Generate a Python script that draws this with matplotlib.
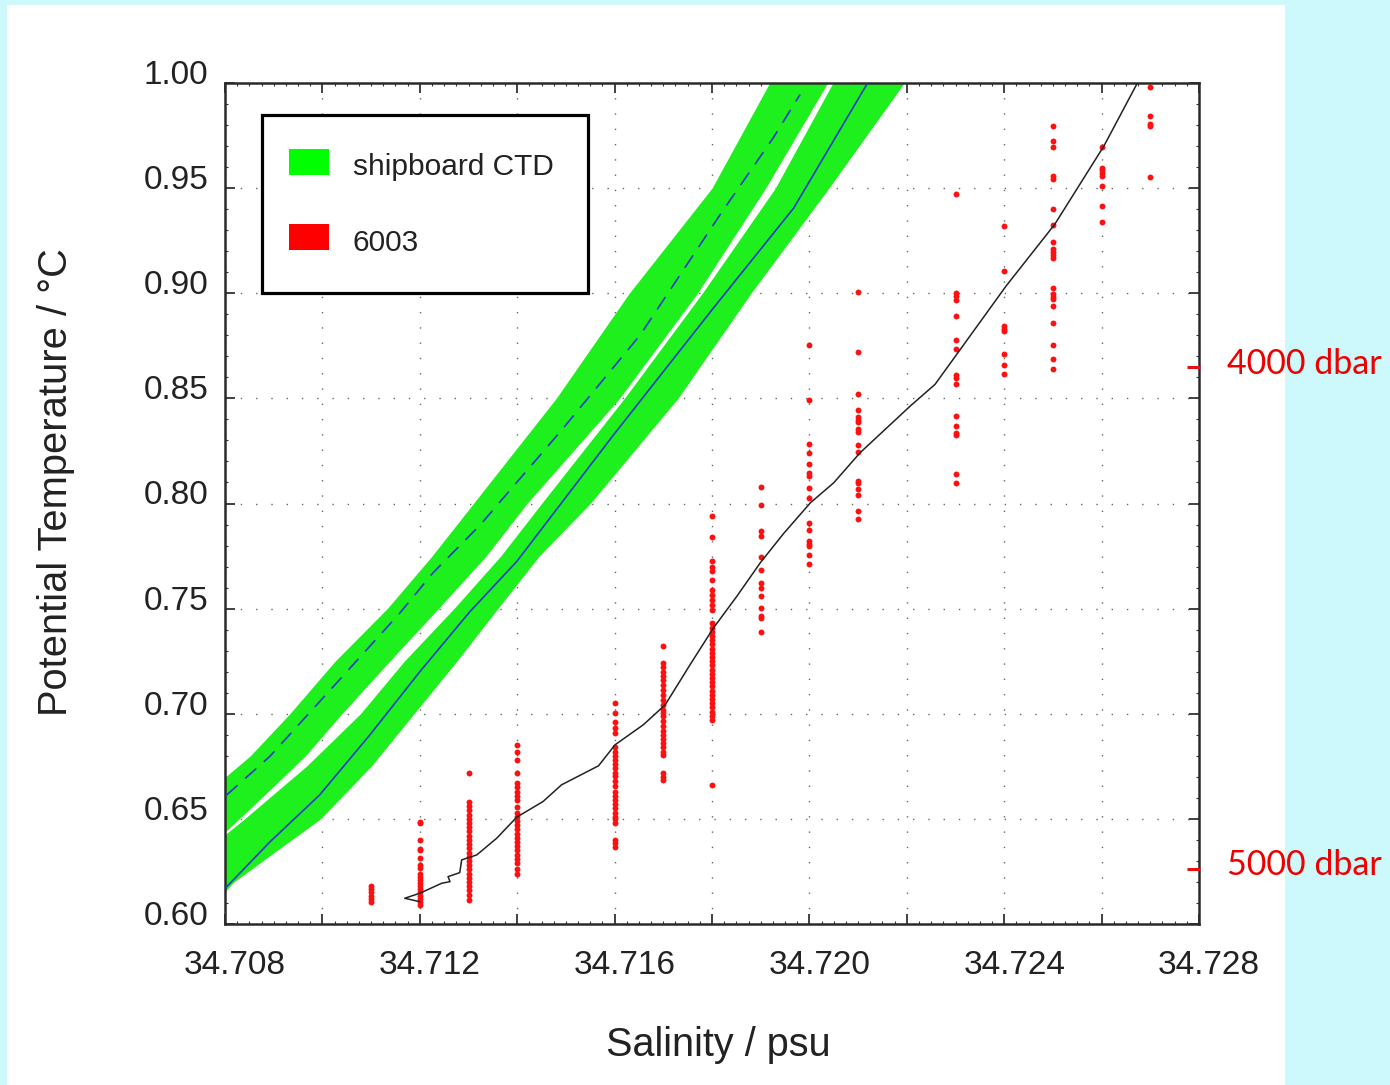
import matplotlib
matplotlib.use("Agg")
import matplotlib.pyplot as plt
import matplotlib.transforms as mtransforms
from matplotlib.patches import Rectangle
from matplotlib.ticker import FixedLocator, MultipleLocator, FuncFormatter

plt.rcParams['font.family'] = ['Liberation Sans', 'DejaVu Sans']

# ---------------- data ----------------
# shipboard CTD: upper band (dashed blue centre line)
upper_line_s = [34.70803, 34.70892, 34.71029, 34.71159, 34.71227, 34.71324,
                34.71489, 34.71653, 34.71817, 34.71926, 34.71981]
upper_line_t = [0.6613, 0.6797, 0.7146, 0.7479, 0.7670, 0.7898,
                0.8343, 0.8803, 0.9375, 0.9740, 0.9946]
# shipboard CTD: lower band (solid blue centre line)
lower_line_s = [34.70803, 34.70892, 34.70994, 34.71097, 34.71200, 34.71303,
                34.71399, 34.71598, 34.71803, 34.71968, 34.72118]
lower_line_t = [0.6176, 0.6390, 0.6613, 0.6898, 0.7200, 0.7486,
                0.7724, 0.8327, 0.8930, 0.9406, 0.9994]

# extent of the green CTD point clouds (salinity edges at given temperatures)
upper_band_t = [0.635, 0.66, 0.68, 0.70, 0.725, 0.75, 0.775, 0.80, 0.85, 0.90, 0.95, 1.005]
upper_band_left = [34.7063, 34.7075, 34.70852, 34.70933, 34.71026, 34.71133, 34.71225,
                   34.7131, 34.7148, 34.7163, 34.7180, 34.7193]
upper_band_right = [34.7076, 34.70875, 34.70965, 34.71040, 34.71138, 34.71238, 34.71336,
                    34.7142, 34.7161, 34.7177, 34.7191, 34.7205]
lower_band_t = [0.600, 0.62, 0.65, 0.675, 0.70, 0.725, 0.75, 0.775, 0.80, 0.85, 0.90, 0.95, 1.005]
lower_band_left = [34.7062, 34.7068, 34.7084, 34.70967, 34.71078, 34.71168, 34.7127,
                   34.71366, 34.7145, 34.7162, 34.7178, 34.7193, 34.7206]
lower_band_right = [34.7074, 34.70818, 34.70996, 34.71100, 34.71188, 34.71276, 34.7136,
                    34.71445, 34.7155, 34.7173, 34.7188, 34.7204, 34.7221]

# float 6003 samples, grouped by salinity column
t_34711 = [0.6105, 0.612, 0.6135, 0.615, 0.6165, 0.618]
t_34712 = [0.6487, 0.648, 0.640, 0.6357, 0.6352, 0.6313, 0.6281, 0.6265, 0.624, 0.6225,
           0.621, 0.6195, 0.618, 0.6165, 0.615, 0.6135, 0.612, 0.6105, 0.609]
t_34713 = [0.6718, 0.658, 0.656, 0.654, 0.652, 0.650, 0.648, 0.646, 0.644, 0.642, 0.640,
           0.638, 0.636, 0.634, 0.632, 0.630, 0.628, 0.626, 0.624, 0.622, 0.620, 0.618,
           0.616, 0.614, 0.6115]
t_34714 = [0.6852, 0.682, 0.678, 0.672, 0.667, 0.665, 0.663, 0.661, 0.659, 0.6555, 0.653,
           0.651, 0.649, 0.647, 0.645, 0.643, 0.641, 0.639, 0.637, 0.635, 0.633, 0.631,
           0.629, 0.626, 0.6238]
t_34716 = [0.7051, 0.7003, 0.6963, 0.6932, 0.6908, 0.6844, 0.682, 0.680, 0.678, 0.676,
           0.674, 0.672, 0.6702, 0.6678, 0.6655, 0.663, 0.661, 0.659, 0.657, 0.655, 0.653,
           0.6511, 0.650, 0.648, 0.640, 0.6384, 0.6368]
t_34717 = [0.7324, 0.7241, 0.722, 0.720, 0.718, 0.716, 0.7135, 0.7114, 0.709, 0.7065,
           0.704, 0.702, 0.7005, 0.6987, 0.6965, 0.694, 0.692, 0.690, 0.688, 0.686, 0.684,
           0.682, 0.6805, 0.6719, 0.670, 0.6686]
t_34718 = [0.7940, 0.7841, 0.7725, 0.770, 0.7678, 0.7638, 0.759, 0.7565, 0.754, 0.7515,
           0.7495, 0.7432, 0.741, 0.739, 0.737, 0.735, 0.733, 0.731, 0.729, 0.727, 0.725,
           0.723, 0.721, 0.719, 0.717, 0.715, 0.713, 0.711, 0.709, 0.707, 0.705, 0.703,
           0.701, 0.699, 0.6971, 0.6662]
t_34719 = [0.8080, 0.7995, 0.7868, 0.7844, 0.7746, 0.7686, 0.7622, 0.7598, 0.7559,
           0.7503, 0.7463, 0.7456, 0.7387]
t_34720 = [0.8752, 0.8490, 0.8281, 0.8241, 0.8186, 0.8146, 0.8130, 0.8075, 0.8027,
           0.7908, 0.7876, 0.7820, 0.7808, 0.7797, 0.7757, 0.7710]
t_34721 = [0.9008, 0.8722, 0.8522, 0.8444, 0.8410, 0.8398, 0.8386, 0.8352, 0.8340,
           0.8278, 0.8246, 0.8106, 0.8099, 0.8067, 0.8040, 0.7963, 0.7927]
t_34723 = [0.9471, 0.8999, 0.8985, 0.8968, 0.8892, 0.8776, 0.8733, 0.8610, 0.8599,
           0.8567, 0.8416, 0.8368, 0.8333, 0.8324, 0.8138, 0.8099]
t_34724 = [0.9320, 0.9106, 0.8844, 0.8832, 0.8820, 0.8710, 0.8657, 0.8614]
t_34725 = [0.9794, 0.9722, 0.9694, 0.9559, 0.9543, 0.9400, 0.9325, 0.9246, 0.9210,
           0.9195, 0.9180, 0.9170, 0.9027, 0.8995, 0.8983, 0.8971, 0.8940, 0.8857,
           0.8752, 0.8689, 0.8638]
t_34726 = [0.9694, 0.9598, 0.9585, 0.9572, 0.9559, 0.9508, 0.9413, 0.9337]
t_34727 = [0.9979, 0.9844, 0.9805, 0.9797, 0.9554]

float_columns_s = [34.711, 34.712, 34.713, 34.714, 34.716, 34.717, 34.718, 34.719,
                   34.720, 34.721, 34.723, 34.724, 34.725, 34.726, 34.727]
float_columns_t = [t_34711, t_34712, t_34713, t_34714, t_34716, t_34717, t_34718, t_34719,
                   t_34720, t_34721, t_34723, t_34724, t_34725, t_34726, t_34727]

# black reference line
ref_s = [34.71200, 34.71169, 34.71200, 34.71245, 34.71262, 34.71258, 34.71282, 34.71286,
         34.71317, 34.71358, 34.71399, 34.71453, 34.71491, 34.71567, 34.71601, 34.71659,
         34.71704, 34.71755, 34.71803, 34.71851, 34.71899, 34.71947, 34.72002, 34.72050,
         34.72104, 34.72207, 34.72258, 34.72310, 34.72404, 34.72504, 34.72605, 34.72676]
ref_t = [0.61062, 0.61224, 0.61462, 0.61938, 0.62014, 0.62252, 0.62443, 0.63048,
         0.63286, 0.64081, 0.65081, 0.65824, 0.66619, 0.67524, 0.68524, 0.69476,
         0.70429, 0.72333, 0.74081, 0.75586, 0.77176, 0.78571, 0.80033, 0.80986,
         0.82414, 0.84633, 0.85667, 0.87333, 0.90348, 0.93286, 0.97014, 1.00110]

# pressure markers on the right
dbar_labels = ['4000 dbar', '5000 dbar']
dbar_t = [0.8648, 0.6262]

x_ticks = [34.708, 34.710, 34.712, 34.714, 34.716, 34.718, 34.720, 34.722, 34.724, 34.726, 34.728]
x_labelled = [34.708, 34.712, 34.716, 34.720, 34.724, 34.728]
y_ticks = [0.60, 0.65, 0.70, 0.75, 0.80, 0.85, 0.90, 0.95, 1.00]
legend_labels = ['shipboard CTD', '6003']
legend_colors = ['#00ff00', '#ff0000']

# ---------------- figure ----------------
W, H = 1390, 1085
fig = plt.figure(figsize=(W / 100, H / 100), dpi=100)
fig.patch.set_facecolor('#cdf8fc')
fig.patches.append(Rectangle((7 / W, 0), (1285 - 7) / W, (H - 5) / H,
                             transform=fig.transFigure, facecolor='white',
                             edgecolor='none', zorder=-10))

L, R, T, B = 225, 1199, 83, 924
ax = fig.add_axes([L / W, 1 - B / H, (R - L) / W, (B - T) / H])
ax.set_facecolor('white')

green = '#1ef01e'
ax.fill_betweenx(upper_band_t, upper_band_left, upper_band_right, color=green, lw=0, zorder=2)
ax.fill_betweenx(lower_band_t, lower_band_left, lower_band_right, color=green, lw=0, zorder=2)
ax.plot(upper_line_s, upper_line_t, color='#1e3cc8', lw=1.2, linestyle=(0, (9.0, 6.0)), zorder=3)
ax.plot(lower_line_s, lower_line_t, color='#1e3cc8', lw=1.2, zorder=3)

for s, ts in zip(float_columns_s, float_columns_t):
    ax.scatter([s] * len(ts), ts, s=18, color='#ff1010', linewidths=0, zorder=4)

ax.plot(ref_s, ref_t, color='#222222', lw=1.1, zorder=5)

ax.set_xlim(34.708, 34.728)
ax.set_ylim(0.60, 1.00)

ax.xaxis.set_major_locator(FixedLocator(x_ticks))
ax.xaxis.set_major_formatter(FuncFormatter(
    lambda v, p: f'{v:.3f}' if any(abs(v - q) < 1e-6 for q in x_labelled) else ''))
ax.xaxis.set_minor_locator(MultipleLocator(0.00025))
ax.yaxis.set_major_locator(FixedLocator(y_ticks))
ax.yaxis.set_major_formatter(FuncFormatter(lambda v, p: f'{v:.2f}'))
ax.yaxis.set_minor_locator(MultipleLocator(0.01))

ax.tick_params(which='both', direction='in', top=True, right=True, colors='#333333')
ax.tick_params(which='major', length=7, width=1.3, labelsize=24, labelcolor='#222222')
ax.tick_params(which='minor', length=2.5, width=0.8)
ax.tick_params(axis='y', which='major', pad=12)
ax.tick_params(axis='x', which='major', pad=18.5)

for sp in ax.spines.values():
    sp.set_linewidth(1.8)
    sp.set_color('#2a2a2a')

ax.set_axisbelow(True)
ax.grid(True, which='major', color='#666666', lw=1.0, linestyle=(0, (1, 10)))

# label offsets as in the original
off_y = mtransforms.ScaledTranslation(0, 11 / 100, fig.dpi_scale_trans)
for lab in ax.get_yticklabels():
    lab.set_transform(lab.get_transform() + off_y)
off_x = mtransforms.ScaledTranslation(10 / 100, 0, fig.dpi_scale_trans)
for lab in ax.get_xticklabels():
    lab.set_transform(lab.get_transform() + off_x)

ax.set_xlabel('Salinity / psu', fontsize=28.5, color='#222222')
ax.set_ylabel('Potential Temperature / °C', fontsize=28.7, color='#222222')
ax.xaxis.label.set_va('center')
ax.yaxis.label.set_va('center')
ax.xaxis.set_label_coords((718 - L) / (R - L), (B - 1045) / (B - T))
ax.yaxis.set_label_coords((56 - L) / (R - L), (B - 482) / (B - T))

# legend box (drawn in pixel positions of the original, via axes coords)
def ax_xy(px, py):
    return (px - L) / (R - L), (B - py) / (B - T)

x0, y0 = ax_xy(262, 293)
x1, y1 = ax_xy(588, 115)
ax.add_patch(Rectangle((x0, y0), x1 - x0, y1 - y0, transform=ax.transAxes,
                       facecolor='white', edgecolor='black', lw=2.3, zorder=10))
for i, (lab, col) in enumerate(zip(legend_labels, legend_colors)):
    py_top = 149 + 75 * i
    px0, py0 = ax_xy(289, py_top + 26)
    px1, py1 = ax_xy(329, py_top)
    ax.add_patch(Rectangle((px0, py0), px1 - px0, py1 - py0, transform=ax.transAxes,
                           facecolor=col, edgecolor='none', zorder=11))
    tx, ty = ax_xy(353, 167 + 76 * i)
    ax.text(tx, ty, lab, transform=ax.transAxes, fontsize=21.5, color='#222222',
            ha='left', va='center', zorder=12)

# pressure markers
bt = mtransforms.blended_transform_factory(ax.transAxes, ax.transData)
for lab, tv in zip(dbar_labels, dbar_t):
    ax.plot([0.988, 1.001], [tv, tv], color='#e81010', lw=2.2, transform=bt,
            clip_on=False, zorder=6, solid_capstyle='butt')
    ax.annotate(lab, xy=(1.0, tv), xycoords=bt, xytext=(20, 2.5),
                textcoords='offset points', ha='left', va='center',
                fontsize=24.5, color='#ee0000', family=['Lato', 'DejaVu Sans'],
                annotation_clip=False)

fig.savefig('out.png', dpi=100, facecolor=fig.get_facecolor())
